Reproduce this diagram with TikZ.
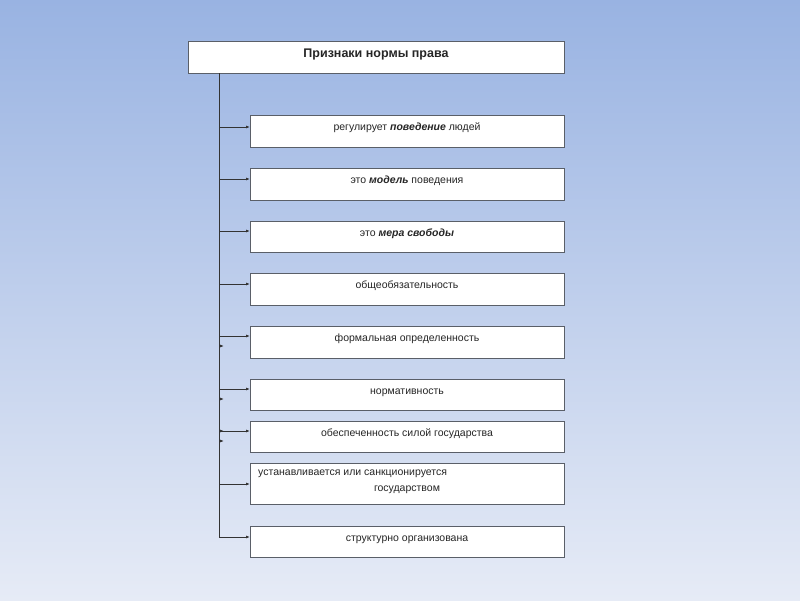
\documentclass[tikz,border=0pt]{standalone}
\usepackage{fontspec}
\setmainfont{Liberation Sans}
\usetikzlibrary{arrows.meta}
\definecolor{bgtop}{HTML}{99B3E2}
\definecolor{bgbot}{HTML}{E6EBF6}
\definecolor{edge}{HTML}{5A5F68}
\tikzset{
  box/.style={draw=edge, line width=1pt, fill=white},
  lbl/.style={font=\fontsize{10.5}{12}\selectfont, text=black!85, inner sep=0pt, anchor=base},
  conn/.style={draw=black!80, line width=0.8pt},
  arr/.style={conn, -{Latex[length=4pt,width=3pt]}}
}
\begin{document}
\begin{tikzpicture}[x=1pt,y=-1pt]
\shade[top color=bgtop, bottom color=bgbot] (0,0) rectangle (800,600);
\useasboundingbox (0,0) rectangle (800,600);
% title
\draw[box] (188,41) rectangle (564,73);
\node[font=\bfseries\fontsize{12.5}{14}\selectfont, text=black!85, inner sep=0pt, anchor=base] (title) at (376,57) {Признаки нормы права};
\coordinate (top) at (219,73);
\coordinate (bot) at (219,537);
% boxes
\foreach \n/\ya/\yb in {b1/115/147,b2/168/200,b3/221/252,b4/273/305,b5/326/358,b6/379/410,b7/421/452,b8/463/504,b9/526/557}{
  \draw[box] (250,\ya) rectangle (564,\yb) coordinate[pos=0] (\n-tl);
}
\node[lbl] (t1) at (407,130) {регулирует \textbf{\textit{поведение}} людей};
\node[lbl] (t2) at (407,183) {это \textbf{\textit{модель}} поведения};
\node[lbl] (t3) at (407,236) {это \textbf{\textit{мера свободы}}};
\node[lbl] (t4) at (407,288) {общеобязательность};
\node[lbl] (t5) at (407,341) {формальная определенность};
\node[lbl] (t6) at (407,394) {нормативность};
\node[lbl] (t7) at (407,436) {обеспеченность силой государства};
\node[lbl, anchor=base west] (t8a) at (258,475) {устанавливается или санкционируется};
\node[lbl] (t8b) at (407,491) {государством};
\node[lbl] (t9) at (407,541) {структурно организована};
% trunk
\draw[conn] (top) -- (bot);
% arrows
\foreach \y in {127,179,231,284,336,389,431,484,537}{
  \coordinate (s\y) at (219,\y);
  \coordinate (e\y) at (250,\y);
  \draw[arr] (s\y) -- (e\y);
}
% stray arrowheads
\foreach \y in {346,399,431,441}{
  \coordinate (p\y) at (219,\y);
  \coordinate (q\y) at (224,\y);
  \draw[arr] (p\y) -- (q\y);
}
\end{tikzpicture}
\end{document}
